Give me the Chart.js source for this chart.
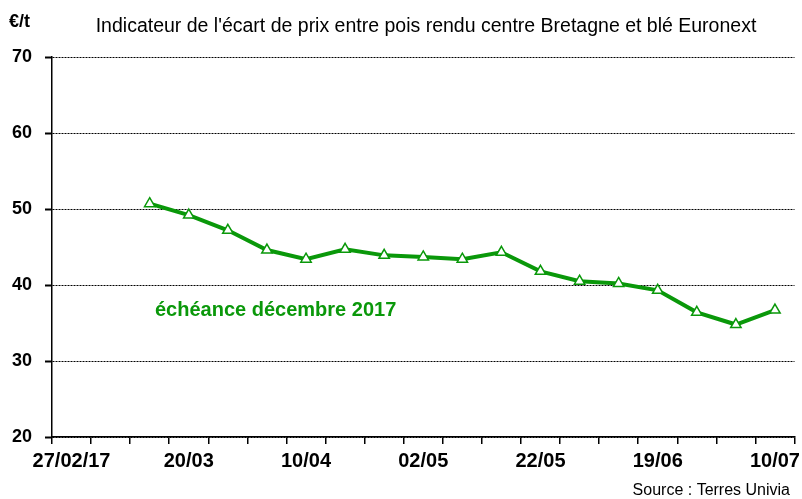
<!DOCTYPE html>
<html>
<head>
<meta charset="utf-8">
<script src="https://cdn.jsdelivr.net/npm/chart.js@4"></script>
<style>
html,body{margin:0;padding:0;background:#fff;}
#wrap{width:802px;height:499px;position:relative;}
</style>
</head>
<body>
<div id="wrap"><canvas id="c" width="802" height="499"></canvas></div>
<script>
const categories = ['27/02/17','06/03','13/03','20/03','27/03','03/04','10/04','18/04','25/04','02/05','09/05','16/05','22/05','29/05','06/06','19/06','26/06','03/07','10/07'];
const spreadValues = [null, null, 50.7, 49.2, 47.2, 44.6, 43.4, 44.7, 43.9, 43.7, 43.4, 44.3, 41.8, 40.5, 40.2, 39.3, 36.4, 34.8, 36.7];
const yTicks = [20, 30, 40, 50, 60, 70];
const titleText = "Indicateur de l'écart de prix entre pois rendu centre Bretagne et blé Euronext";
const unitText = '€/t';
const noteText = 'échéance décembre 2017';
const sourceText = 'Source : Terres Univia';

const GREEN = '#0a980a';
const FONT = '"Liberation Sans", Arial, sans-serif';

const textPlugin = {
  id: 'texts',
  afterDraw(chart) {
    const ctx = chart.ctx;
    ctx.save();
    ctx.fillStyle = '#000';
    ctx.textBaseline = 'middle';
    ctx.font = 'bold 18px ' + FONT;
    ctx.textAlign = 'left';
    ctx.fillText(unitText, 9, 22);
    ctx.font = '19.5px ' + FONT;
    ctx.textAlign = 'center';
    ctx.fillText(titleText, 426, 27);
    ctx.font = '16px ' + FONT;
    ctx.textAlign = 'right';
    ctx.fillText(sourceText, 790, 491);
    ctx.fillStyle = GREEN;
    ctx.font = 'bold 20px ' + FONT;
    ctx.textAlign = 'left';
    ctx.fillText(noteText, 155, 310);
    ctx.restore();
  }
};

new Chart(document.getElementById('c'), {
  type: 'line',
  data: {
    labels: categories,
    datasets: [{
      data: spreadValues,
      borderColor: GREEN,
      borderWidth: 4,
      tension: 0,
      pointStyle: 'triangle',
      pointRadius: 6,
      pointBackgroundColor: '#fff',
      pointBorderColor: GREEN,
      pointBorderWidth: 1.5,
      spanGaps: false
    }]
  },
  options: {
    responsive: false,
    animation: false,
    devicePixelRatio: 1,
    layout: { padding: { top: 57, right: 5, bottom: 0, left: 0 } },
    plugins: { legend: { display: false }, title: { display: false }, tooltip: { enabled: false } },
    scales: {
      x: {
        type: 'category',
        offset: true,
        afterFit(s) { s.height = 62; s.paddingLeft = 0; s.paddingRight = 0; },
        border: { display: true, color: '#000', width: 1.5 },
        grid: { offset: true, drawOnChartArea: false, drawTicks: true, tickLength: 7, color: '#000', lineWidth: 1.5 },
        ticks: {
          autoSkip: false, maxRotation: 0, minRotation: 0, padding: 5,
          color: '#000', font: { family: FONT, size: 20, weight: 'bold' },
          callback(v, i) { return i % 3 === 0 ? categories[i] : ''; }
        }
      },
      y: {
        min: 20, max: 70,
        afterFit(s) { s.width = 52; s.paddingTop = 0; s.paddingBottom = 0; },
        afterBuildTicks(s) { s.ticks = yTicks.map(v => ({ value: v })); },
        border: { display: true, color: '#000', width: 1.5, dash: [2, 1] },
        grid: { color: '#000', lineWidth: 1, tickLength: 7, tickBorderDash: [], tickWidth: 2 },
        ticks: { padding: 13, color: '#000', font: { family: FONT, size: 18, weight: 'bold' } }
      }
    }
  },
  plugins: [textPlugin]
});
</script>
</body>
</html>
